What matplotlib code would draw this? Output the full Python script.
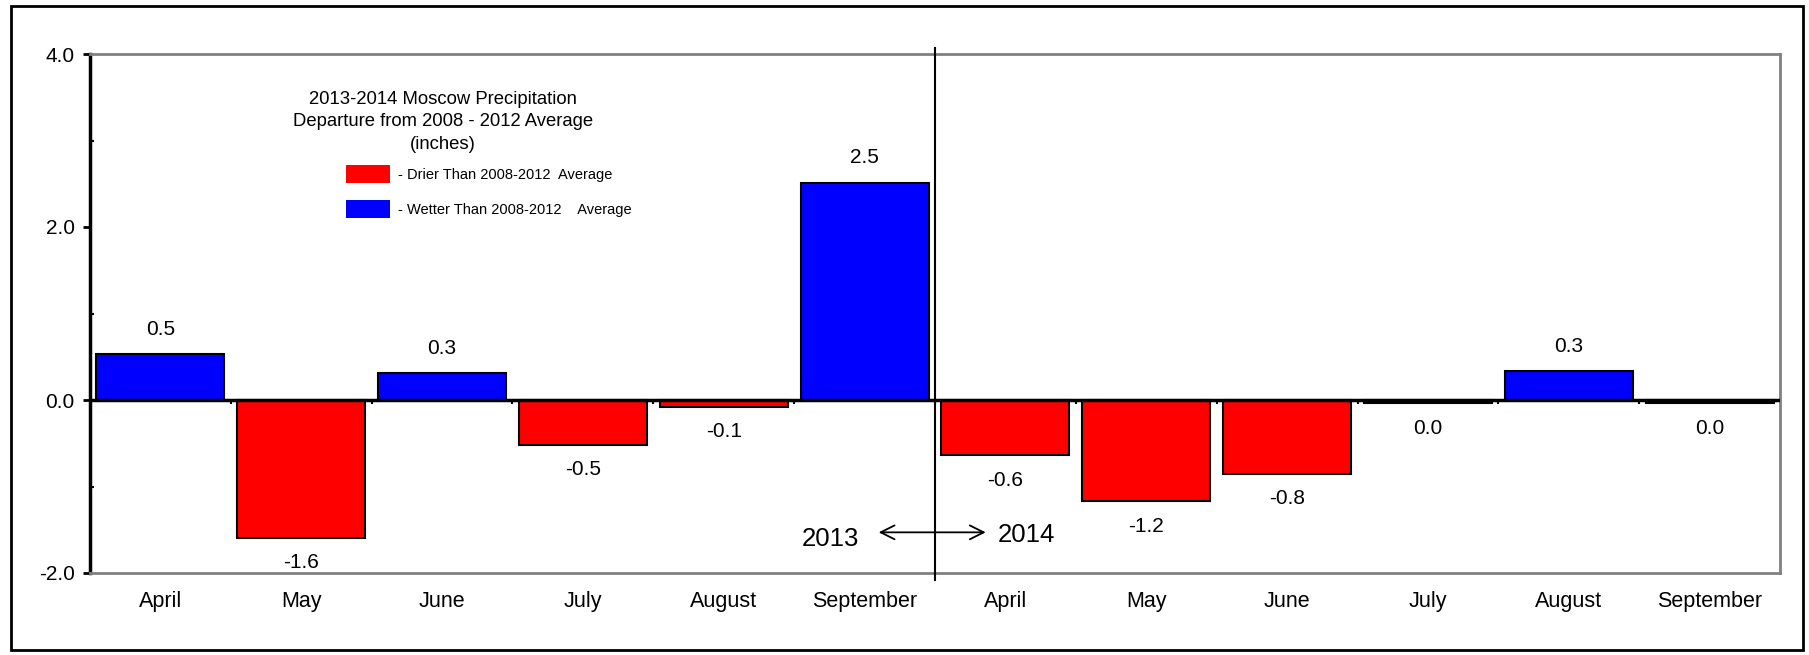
import matplotlib
matplotlib.use("Agg")
import matplotlib.pyplot as plt
import matplotlib.patches as mpatches
import numpy as np

months = ["April", "May", "June", "July", "August", "September",
          "April", "May", "June", "July", "August", "September"]
departure = [0.53, -1.59, 0.31, -0.52, -0.08, 2.51,
             -0.64, -1.17, -0.85, -0.04, 0.33, -0.04]
value_labels = ["0.5", "-1.6", "0.3", "-0.5", "-0.1", "2.5",
                "-0.6", "-1.2", "-0.8", "0.0", "0.3", "0.0"]

plt.rcParams['font.family'] = ['Liberation Sans', 'DejaVu Sans']
plt.rcParams['axes.unicode_minus'] = False

fig = plt.figure(figsize=(18.09, 6.55), dpi=100)
ax = fig.add_axes([90 / 1809, 82 / 655, 1690 / 1809, 519 / 655])

x = np.arange(len(months))
colors = ['blue' if v > 0 else 'red' for v in departure]
ax.bar(x, departure, width=0.91, color=colors, edgecolor='black', linewidth=1.5, zorder=2)

for xi, v, lab in zip(x, departure, value_labels):
    off = 18 if v > 0 else -18
    ax.annotate(lab, (xi, v), xytext=(0, off), textcoords='offset points',
                ha='center', va='center', fontsize=15)

ax.set_xlim(-0.5, len(months) - 0.5)
ax.set_ylim(-2, 4)

# zero line with small marks at month boundaries
ax.axhline(0, color='black', linewidth=2.5, zorder=3)
bounds = np.arange(0.5, len(months) - 0.5, 1.0)
ax.vlines(bounds, -0.05, 0, color='black', linewidth=1.5, zorder=3)

# 2013 / 2014 divider
ax.axvline(5.5, ymin=-0.013, ymax=1.012, color='black', linewidth=1.5, clip_on=False, zorder=4)
ax.annotate("", xy=(5.10, -1.53), xytext=(5.86, -1.53),
            arrowprops=dict(arrowstyle='<->', color='black', lw=1.3, mutation_scale=25,
                            shrinkA=0, shrinkB=0))
ax.text(4.76, -1.61, "2013", ha='center', va='center', fontsize=18.5)
ax.text(6.15, -1.56, "2014", ha='center', va='center', fontsize=18.5)

ax.set_xticks(x)
ax.set_xticklabels(months, fontsize=15.5)
ax.tick_params(axis='x', length=0, pad=13)
ax.set_yticks([-2, 0, 2, 4])
ax.set_yticklabels(["-2.0", "0.0", "2.0", "4.0"], fontsize=15)
ax.set_yticks([-1, 1, 3], minor=True)
ax.tick_params(axis='y', which='major', direction='out', length=5, width=2, pad=6)
ax.tick_params(axis='y', which='minor', direction='in', length=3, width=1.5)

ax.spines['left'].set_color('black')
ax.spines['left'].set_linewidth(2.5)
for s in ['top', 'right', 'bottom']:
    ax.spines[s].set_color('#808080')
    ax.spines[s].set_linewidth(2)

# legend block
fig.text(443 / 1809, 1 - 122 / 655,
         "2013-2014 Moscow Precipitation\nDeparture from 2008 - 2012 Average\n(inches)",
         ha='center', va='center', fontsize=13.3, linespacing=1.45)
fig.patches.append(mpatches.Rectangle((346 / 1809, 1 - 183 / 655), 44 / 1809, 18 / 655,
                                      facecolor='red', edgecolor='none',
                                      transform=fig.transFigure, figure=fig))
fig.patches.append(mpatches.Rectangle((346 / 1809, 1 - 218 / 655), 44 / 1809, 18 / 655,
                                      facecolor='blue', edgecolor='none',
                                      transform=fig.transFigure, figure=fig))
fig.text(398 / 1809, 1 - 175 / 655, "- Drier Than 2008-2012  Average",
         ha='left', va='center', fontsize=10.5)
fig.text(398 / 1809, 1 - 210 / 655, "- Wetter Than 2008-2012    Average",
         ha='left', va='center', fontsize=10.5)

# outer frame
fig.patches.append(mpatches.Rectangle((11 / 1809, 5 / 655), 1792 / 1809, 644 / 655,
                                      facecolor='none', edgecolor='black', linewidth=2,
                                      transform=fig.transFigure, figure=fig))

fig.savefig("out.png", dpi=100)
